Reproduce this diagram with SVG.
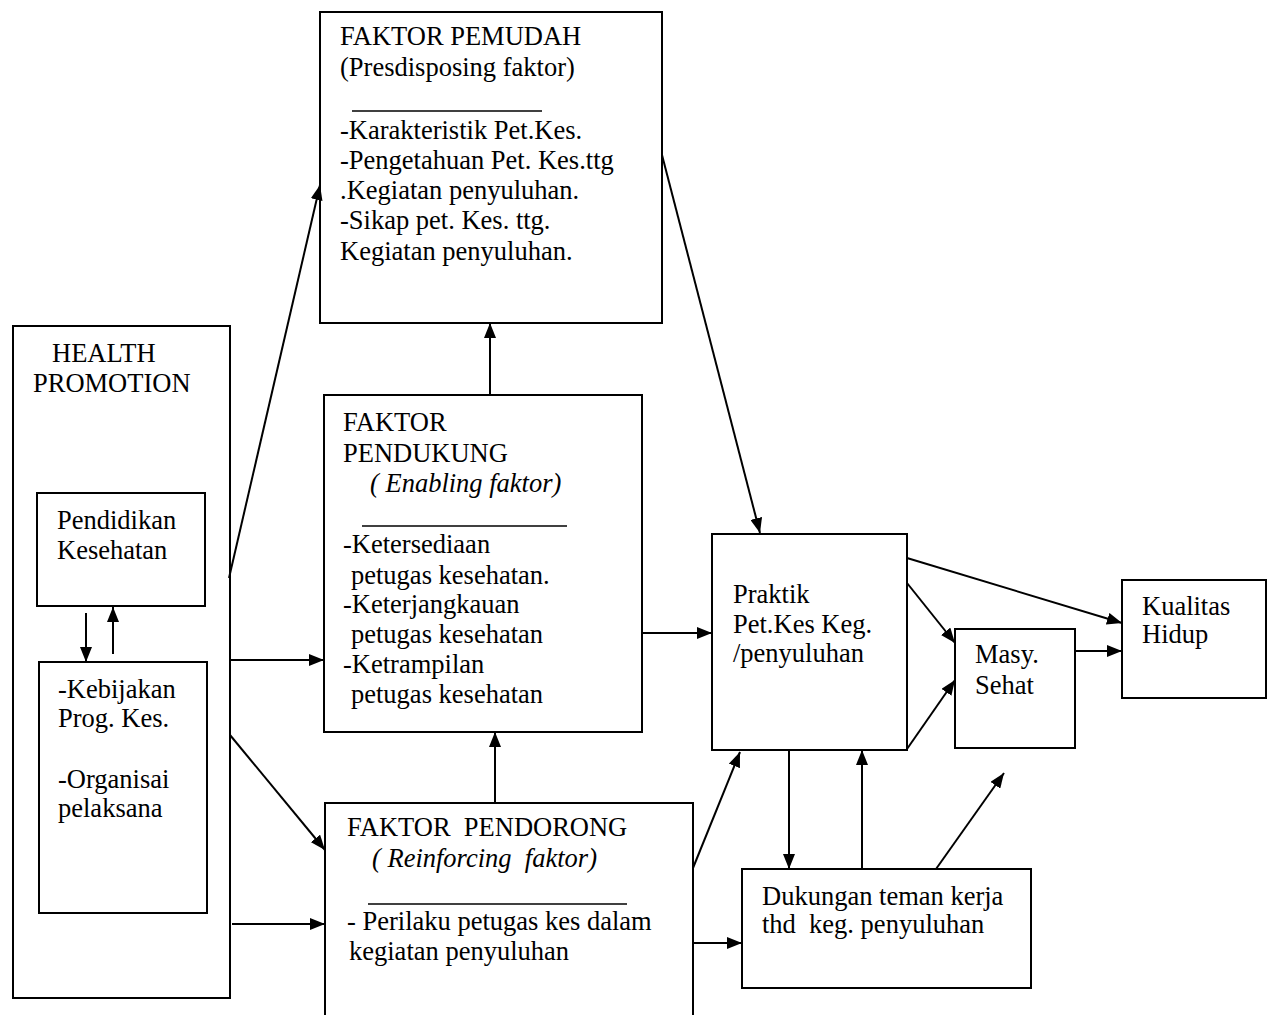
<svg xmlns="http://www.w3.org/2000/svg" width="1272" height="1015" viewBox="0 0 1272 1015">
<defs>
<style>
.box{fill:none;stroke:#000;stroke-width:2}
.t{font-family:"Liberation Serif","Times New Roman",serif;font-size:26.5px;fill:#000;white-space:pre}
.i{font-style:italic}
.rule{stroke:#000;stroke-width:1.5}
.c{fill:none;stroke:#000;stroke-width:2;marker-end:url(#ah)}
</style>
<marker id="ah" markerUnits="userSpaceOnUse" markerWidth="16" markerHeight="12" refX="15" refY="6" orient="auto">
<path d="M0,0 L15,6 L0,12 z" fill="#000"/>
</marker>
</defs>
<rect width="1272" height="1015" fill="#fff"/>

<g id="health-promotion">
<rect class="box" x="13" y="326" width="217" height="672"/>
<text class="t" x="52" y="362">HEALTH</text>
<text class="t" x="33" y="392">PROMOTION</text>
</g>
<g id="pendidikan">
<rect class="box" x="37" y="493" width="168" height="113"/>
<text class="t" x="57" y="529">Pendidikan</text>
<text class="t" x="57" y="559">Kesehatan</text>
</g>
<g id="kebijakan">
<rect class="box" x="39" y="662" width="168" height="251"/>
<text class="t" x="58" y="698">-Kebijakan</text>
<text class="t" x="58" y="727">Prog. Kes.</text>
<text class="t" x="58" y="788">-Organisai</text>
<text class="t" x="58" y="817">pelaksana</text>
</g>
<g id="faktor-pemudah">
<rect class="box" x="320" y="12" width="342" height="311"/>
<text class="t" x="340" y="45">FAKTOR PEMUDAH</text>
<text class="t" x="340" y="76">(Presdisposing faktor)</text>
<line class="rule" x1="352" y1="111" x2="542" y2="111"/>
<text class="t" x="340" y="139">-Karakteristik Pet.Kes.</text>
<text class="t" x="340" y="169">-Pengetahuan Pet. Kes.ttg</text>
<text class="t" x="340" y="199">.Kegiatan penyuluhan.</text>
<text class="t" x="340" y="229">-Sikap pet. Kes. ttg.</text>
<text class="t" x="340" y="260">Kegiatan penyuluhan.</text>
</g>
<g id="faktor-pendukung">
<rect class="box" x="324" y="395" width="318" height="337"/>
<text class="t" x="343" y="431">FAKTOR</text>
<text class="t" x="343" y="462">PENDUKUNG</text>
<text class="t i" x="370" y="492">( Enabling faktor)</text>
<line class="rule" x1="362" y1="526" x2="567" y2="526"/>
<text class="t" x="343" y="553">-Ketersediaan</text>
<text class="t" x="351" y="584">petugas kesehatan.</text>
<text class="t" x="343" y="613">-Keterjangkauan</text>
<text class="t" x="351" y="643">petugas kesehatan</text>
<text class="t" x="343" y="673">-Ketrampilan</text>
<text class="t" x="351" y="703">petugas kesehatan</text>
</g>
<g id="faktor-pendorong">
<path class="box" d="M325,1020 L325,803 L693,803 L693,1020"/>
<text class="t" x="347" y="836">FAKTOR  PENDORONG</text>
<text class="t i" x="372" y="867">( Reinforcing  faktor)</text>
<line class="rule" x1="368" y1="904" x2="627" y2="904"/>
<text class="t" x="347" y="930">- Perilaku petugas kes dalam</text>
<text class="t" x="349" y="960">kegiatan penyuluhan</text>
</g>
<g id="praktik">
<rect class="box" x="712" y="534" width="195" height="216"/>
<text class="t" x="733" y="603">Praktik</text>
<text class="t" x="733" y="633">Pet.Kes Keg.</text>
<text class="t" x="733" y="662">/penyuluhan</text>
</g>
<g id="masy-sehat">
<rect class="box" x="955" y="629" width="120" height="119"/>
<text class="t" x="975" y="663">Masy.</text>
<text class="t" x="975" y="694">Sehat</text>
</g>
<g id="kualitas-hidup">
<rect class="box" x="1122" y="580" width="144" height="118"/>
<text class="t" x="1142" y="615">Kualitas</text>
<text class="t" x="1142" y="643">Hidup</text>
</g>
<g id="dukungan">
<rect class="box" x="742" y="869" width="289" height="119"/>
<text class="t" x="762" y="905">Dukungan teman kerja</text>
<text class="t" x="762" y="933">thd  keg. penyuluhan</text>
</g>

<g id="connectors">
<line class="c" x1="86" y1="613" x2="86" y2="662"/>
<line class="c" x1="113" y1="654" x2="113" y2="607"/>
<line class="c" x1="229" y1="578" x2="320" y2="185"/>
<line class="c" x1="230" y1="660" x2="324" y2="660"/>
<line class="c" x1="230" y1="735" x2="325" y2="850"/>
<line class="c" x1="232" y1="924" x2="325" y2="924"/>
<line class="c" x1="490" y1="395" x2="490" y2="323"/>
<line class="c" x1="495" y1="803" x2="495" y2="732"/>
<line class="c" x1="662" y1="155" x2="760" y2="533"/>
<line class="c" x1="642" y1="633" x2="712" y2="633"/>
<line class="c" x1="693" y1="868" x2="740" y2="752"/>
<line class="c" x1="693" y1="943" x2="742" y2="943"/>
<line class="c" x1="789" y1="750" x2="789" y2="869"/>
<line class="c" x1="862" y1="869" x2="862" y2="750"/>
<line class="c" x1="936" y1="869" x2="1004" y2="773"/>
<line class="c" x1="907" y1="583" x2="955" y2="643"/>
<line class="c" x1="907" y1="749" x2="955" y2="680"/>
<line class="c" x1="907" y1="558" x2="1122" y2="623"/>
<line class="c" x1="1075" y1="651" x2="1122" y2="651"/>
</g>
</svg>
